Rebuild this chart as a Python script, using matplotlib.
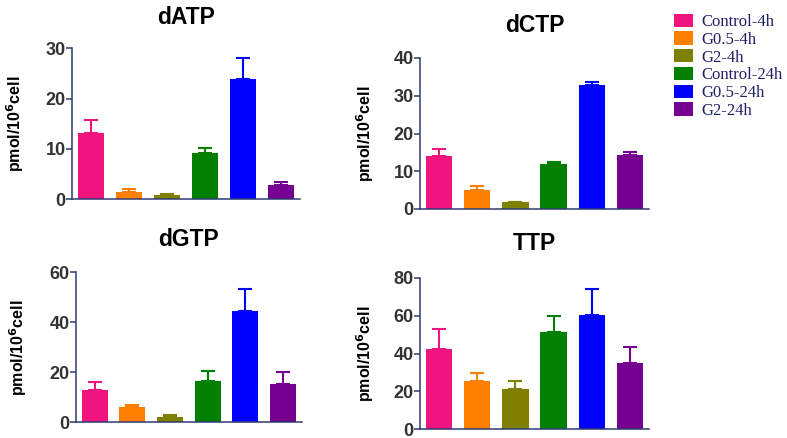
import numpy as np
import matplotlib
matplotlib.use('Agg')
import matplotlib.pyplot as plt
from matplotlib.patches import Patch

groups = ['Control-4h', 'G0.5-4h', 'G2-4h', 'Control-24h', 'G0.5-24h', 'G2-24h']
colors = ['#F0147F', '#FF8000', '#7F7F00', '#007F00', '#0000FF', '#76008F']

datp_mean = [13.1, 1.45, 0.8, 9.1, 23.8, 2.7]
datp_top = [15.7, 1.9, 0.9, 10.2, 28.0, 3.3]
dctp_mean = [14.1, 5.0, 1.8, 11.9, 32.8, 14.3]
dctp_top = [15.9, 6.0, 1.9, 12.5, 33.7, 15.2]
dgtp_mean = [12.9, 6.0, 2.3, 16.5, 44.6, 15.2]
dgtp_top = [16.0, 6.9, 2.9, 20.5, 53.5, 20.1]
ttp_mean = [42.2, 25.4, 21.0, 51.4, 60.2, 34.8]
ttp_top = [53.0, 29.5, 25.6, 60.0, 74.3, 43.6]

AXIS_COLOR = '#2E3A72'
TICK_COLOR = '#333333'
W, H = 787, 438

# panel: name, means, tops, ymax, ystep, axes box in px (left, right, y0, ytop),
# title y (px), ylabel x (px)
panels = [
    ('dATP', datp_mean, datp_top, 30, 10, (72, 300, 199, 48.3), 17, 15),
    ('dCTP', dctp_mean, dctp_top, 40, 10, (420, 649, 209, 58), 25, 365),
    ('dGTP', dgtp_mean, dgtp_top, 60, 20, (75.7, 302, 422.3, 272.3), 240, 18),
    ('TTP', ttp_mean, ttp_top, 80, 20, (420, 649, 429, 278), 243, 365),
]

plt.rcParams['font.family'] = ['Liberation Sans', 'DejaVu Sans']
fig = plt.figure(figsize=(W / 100, H / 100), dpi=100)

x = np.arange(len(groups))
for name, mean, top, ymax, ystep, box, title_y, ylab_x in panels:
    left, right, y0, ytop = box
    ax = fig.add_axes([left / W, (H - y0) / H, (right - left) / W, (y0 - ytop) / H])
    mean = np.array(mean)
    err = np.array(top) - mean
    ax.bar(x, mean, width=0.69, color=colors, zorder=2)
    for i in range(len(x)):
        ax.errorbar(x[i], mean[i], yerr=[[0], [err[i]]], fmt='none',
                    ecolor=colors[i], elinewidth=1.5, capsize=4.7,
                    capthick=1.5, zorder=1)
    ax.set_xlim(-0.5, 5.5)
    ax.set_ylim(0, ymax)
    ax.set_yticks(np.arange(0, ymax + 1, ystep))
    ax.set_xticks([])
    for s in ['top', 'right']:
        ax.spines[s].set_visible(False)
    for s in ['left', 'bottom']:
        ax.spines[s].set_color(AXIS_COLOR)
        ax.spines[s].set_linewidth(1.1)
    ax.tick_params(axis='y', colors=AXIS_COLOR, length=4, width=1.1,
                   labelcolor=TICK_COLOR, labelsize=13, pad=0.5)
    for lbl in ax.get_yticklabels():
        lbl.set_fontweight('bold')
    cx = (left + right) / 2
    fig.text(cx / W, 1 - title_y / H, name, ha='center', va='center',
             fontsize=16.5, fontweight='bold', color='black')
    fig.text(ylab_x / W, 1 - (y0 + ytop) / 2 / H, 'pmol/10$^{\\mathbf{6}}$cell',
             rotation=90, ha='center', va='center', fontsize=11.5,
             fontweight='bold', color='black')

handles = [Patch(facecolor=c, edgecolor='none') for c in colors]
fig.legend(handles, groups, loc='upper left', bbox_to_anchor=(662 / W, 1 - 2 / H),
           frameon=False, prop={'family': 'Liberation Serif', 'size': 12},
           labelcolor='#1F1F66', handlelength=1.15, handleheight=0.85,
           handletextpad=0.5, labelspacing=0.08, borderpad=0.2)

fig.savefig('out.png', dpi=100)
